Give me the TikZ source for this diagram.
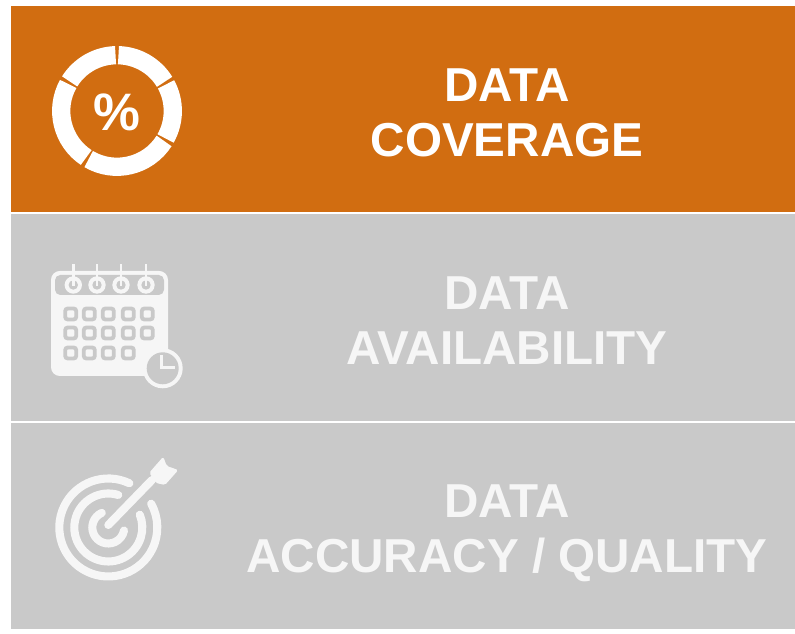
\documentclass[tikz,border=0pt]{standalone}
\usepackage{fontspec}
\setmainfont{Liberation Sans}
\definecolor{bandorange}{HTML}{D16D11}
\definecolor{bandgray}{HTML}{C9C9C9}
\definecolor{textwhite}{HTML}{F6F6F6}
\begin{document}
\begin{tikzpicture}[
      x=0.02cm,
      y=0.02cm,
      band/.style={minimum width=15.68cm, minimum height=4.13cm, inner sep=0pt},
      caption/.style={align=center, font=\bfseries\fontsize{27.1}{31.2}\selectfont},
      ringpart/.style={draw=white, line width=10.4pt},
      targetring/.style={draw=textwhite, line width=4.6pt, line cap=round},
      cell/.style={draw=bandgray, fill=textwhite, line width=2.2pt, rounded corners=1.5pt}
    ]
      \useasboundingbox (0, 0) rectangle (795, 634);

      \node[band, fill=bandorange] (coverage) at (403, 525) {};
      \node[band, fill=bandgray] (availability) at (403, 316.5) {};
      \node[band, fill=bandgray] (accuracy) at (403, 108) {};

      \node[caption, text=white] (coveragetext) at (507, 521) {DATA\\COVERAGE};
      \node[caption, text=textwhite] (availabilitytext) at (507, 313) {DATA\\AVAILABILITY};
      \node[caption, text=textwhite] (accuracytext) at (507, 101) {DATA\\ACCURACY / QUALITY};

      % percent ring
      \foreach \from/\to in {91.5/148, 151/236.5, 239.5/327.5, 330.5/388.5, 31.5/88.5}
        \draw[ringpart] ({117+55.8*cos(\from)}, {523+55.8*sin(\from)})
          arc[start angle=\from, end angle=\to, radius=55.8];
      \node[text=white, font=\bfseries\fontsize{30}{30}\selectfont] (percent) at (117, 522) {\%};

      % calendar
      \fill[textwhite, rounded corners=5pt] (51, 258) rectangle (168, 363);
      \fill[bandgray, rounded corners=3pt] (55, 339) rectangle (164, 359);
      \foreach \xpos in {73.3, 97, 121, 146} {
        \fill[textwhite] (\xpos, 349) circle[radius=8.7];
        \fill[bandgray] (\xpos, 349) circle[radius=4.7];
        \draw[textwhite, line width=1.4pt] (\xpos, 370) -- (\xpos, 348);
      }
      \foreach \xpos in {70.7, 89.3, 108.3, 128.3, 147.3}
        \foreach \ypos in {320, 301}
          \draw[cell] (\xpos-5.5, \ypos-5.5) rectangle (\xpos+5.5, \ypos+5.5);
      \foreach \xpos in {70.7, 89.3, 108.3, 128.3}
        \draw[cell] (\xpos-5.5, 275.5) rectangle (\xpos+5.5, 286.5);
      \fill[textwhite] (162.7, 265.7) circle[radius=20];
      \fill[bandgray] (162.7, 265.7) circle[radius=16];
      \draw[textwhite, line width=2pt] (161.7, 279) -- (161.7, 266.7) -- (175, 266.7);

      % target
      \draw[targetring] ({108.3+49*cos(64.6)}, {106.5+49*sin(64.6)})
        arc[start angle=64.6, end angle=389, radius=49];
      \draw[targetring] ({108.3+34*cos(73)}, {106.5+34*sin(73)})
        arc[start angle=73, end angle=382, radius=34];
      \draw[targetring] ({108.3+16*cos(114)}, {106.5+16*sin(114)})
        arc[start angle=114, end angle=349, radius=16];
      \draw[targetring] (108.3, 109) -- (152, 154);
      \fill[textwhite, rounded corners=1pt]
        (149.3, 161.3) -- (163.3, 177.3) -- (166.7, 168) -- (178.3, 164) -- (165, 149) -- (156, 151) -- cycle;
    \end{tikzpicture}
\end{document}
